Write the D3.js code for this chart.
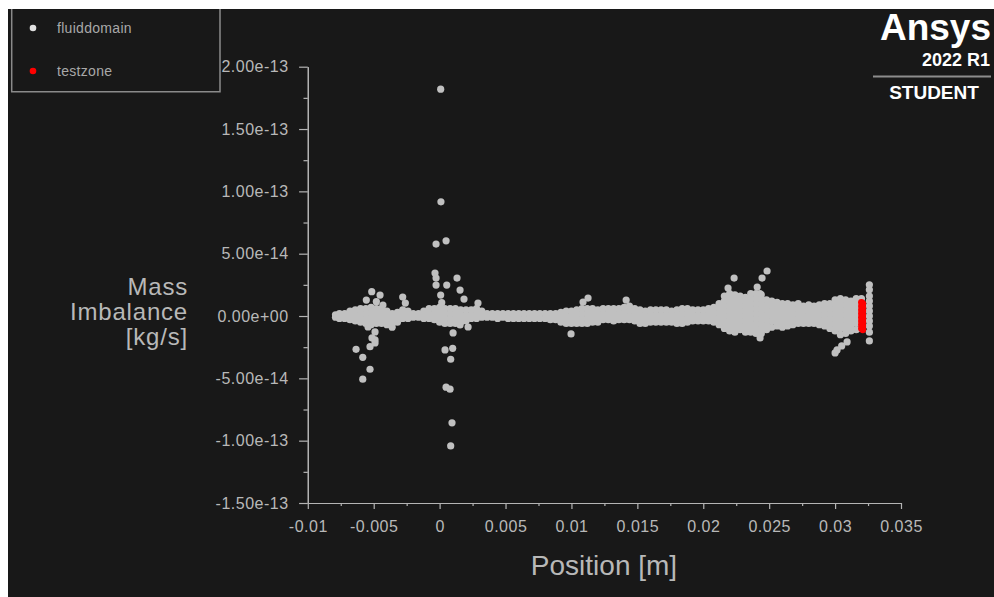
<!DOCTYPE html>
<html><head><meta charset="utf-8">
<script src="https://cdn.jsdelivr.net/npm/d3@7"></script>
<style>
html,body{margin:0;padding:0;background:#ffffff;}
svg{display:block;font-family:"Liberation Sans",Arial,sans-serif;}
</style>
</head><body>
<svg id="chart" width="994" height="597"></svg>
<script>
// ---------- data ----------
const xTickValues = [-0.01, -0.005, 0, 0.005, 0.01, 0.015, 0.02, 0.025, 0.03, 0.035];
const xTickLabels = ["-0.01", "-0.005", "0", "0.005", "0.01", "0.015", "0.02", "0.025", "0.03", "0.035"];
const xMinorTicks = [-0.0075, -0.0025, 0.0025, 0.0075, 0.0125, 0.0175, 0.0225, 0.0275, 0.0325];
const yTickValues = [2e-13, 1.5e-13, 1e-13, 5e-14, 0, -5e-14, -1e-13, -1.5e-13];
const yTickLabels = ["2.00e-13", "1.50e-13", "1.00e-13", "5.00e-14", "0.00e+00", "-5.00e-14", "-1.00e-13", "-1.50e-13"];
const yMinorTicks = [1.75e-13, 1.25e-13, 7.5e-14, 2.5e-14, -2.5e-14, -7.5e-14, -1.25e-13];
const seriesNames = ["fluiddomain", "testzone"];
const seriesColors = ["#c0c0c0", "#ff0000"];
const xTitle = "Position [m]";
const yTitleLines = ["Mass", "Imbalance", "[kg/s]"];

// fluiddomain: dense band, read column by column (x in m, y in 1e-15 kg/s)
const bandX = [-0.0079, -0.0076, -0.0072, -0.0068, -0.0064, -0.0060, -0.0056, -0.0052, -0.0048, -0.0044,
  -0.0040, -0.0036, -0.0032, -0.0028, -0.0024, -0.0020, -0.0016, -0.0012, -0.0008, -0.0004,
  0.0000, 0.0004, 0.0008, 0.0012, 0.0016, 0.0020, 0.0024, 0.0028, 0.0032, 0.0036,
  0.0040, 0.0044, 0.0048, 0.0052, 0.0056, 0.0060, 0.0064, 0.0068, 0.0072, 0.0076,
  0.0080, 0.0084, 0.0088, 0.0092, 0.0096, 0.0100, 0.0104, 0.0108, 0.0112, 0.0116,
  0.0120, 0.0124, 0.0128, 0.0132, 0.0136, 0.0140, 0.0144, 0.0148, 0.0152, 0.0156,
  0.0160, 0.0164, 0.0168, 0.0172, 0.0176, 0.0180, 0.0184, 0.0188, 0.0192, 0.0196,
  0.0200, 0.0204, 0.0208, 0.0212, 0.0216, 0.0220, 0.0224, 0.0228, 0.0232, 0.0236,
  0.0240, 0.0244, 0.0248, 0.0252, 0.0256, 0.0260, 0.0264, 0.0268, 0.0272, 0.0276,
  0.0280, 0.0284, 0.0288, 0.0292, 0.0296, 0.0300, 0.0304, 0.0308, 0.0312, 0.0316,
  0.0320, 0.0326];
const bandY = [
  [1,-1],[2,-2],[2,-2],[4,0,-3],[5,1,-2,-4],[6,2,-2,-5],[6,2,-2,-6],[7,3,-1,-4,-7],[6,2,-2,-6],[6,2,-2,-6],
  [4,0,-4,-7],[2,-2,-6,-9],[3,-1,-5],[5,1,-2],[4,0,-2],[2,-1],[2,-1],[4,0,-2],[6,2,-2],[6,2,-1,-3],
  [7,3,-1,-5],[6,2,-2,-6],[6,2,-2,-6],[6,2,-2,-6],[5,1,-2,-5],[5,1,-2,-4],[5,1,-2],[6,2,-2],[4,0,-1],[2,-1],
  [2,-1],[2,-2],[2,-1],[2,-2],[2,-2],[2,-2],[2,-2],[2,-2],[2,-2],[2,-2],
  [2,-2],[2,-1,-3],[2,-1,-3],[3,-1,-5],[4,0,-3,-6],[4,0,-3,-6],[5,1,-3,-6],[6,2,-2,-6],[6,2,-2,-6],[6,2,-2,-5],
  [5,1,-2,-5],[6,2,-1,-3],[6,2,-1,-3],[6,2,-1,-4],[6,2,-1,-3],[7,3,0,-3],[8,4,0,-3],[6,2,-1,-4],[5,1,-2,-6],[4,0,-3,-6],
  [5,1,-2,-5],[5,1,-2,-5],[5,1,-2,-5],[5,1,-2,-5],[4,0,-2,-5],[5,1,-2,-6],[6,2,-2,-6],[6,2,-2,-5],[5,1,-2,-4],[5,1,-2,-4],
  [5,1,-2,-4],[6,2,-1,-4],[7,3,-1,-5],[10,6,2,-2,-5,-7],[16,12,8,4,0,-4,-7,-10],[18,14,10,6,2,-2,-5,-9,-12],[17,13,9,5,1,-3,-6,-9,-13],[16,12,8,4,0,-4,-8,-11],[15,11,7,3,-1,-5,-9,-13],[18,14,10,6,2,-2,-6,-9,-13],
  [18,14,10,6,2,-2,-6,-10,-14],[17,13,9,5,1,-3,-7,-11,-14],[13,9,5,1,-3,-7,-11],[12,8,4,0,-4,-9],[11,7,3,-1,-5,-8],[10,6,2,-2,-6,-9],[10,6,2,-2,-5,-8],[9,5,1,-3,-7],[10,6,2,-2,-6],[8,4,0,-3,-6],
  [9,5,1,-3,-6],[8,4,0,-3,-6],[9,5,1,-3,-7],[10,6,2,-2,-5,-8],[10,6,2,-2,-6,-10],[13,9,5,1,-3,-7,-12],[14,10,6,2,-2,-6,-10,-15],[13,9,5,1,-3,-7,-10,-14],[12,8,4,0,-4,-8,-12],[14,10,6,2,-2,-6,-11],
  [14,10,6,2,-2,-6,-10],[25,21,16,12,8,4,0,-4,-8,-13,-20]
];
// fluiddomain: scattered points away from the band (x in m, y in 1e-15 kg/s)
const outlierX = [0.00008, 0.0001, -0.00027, 0.00049, -0.00035, -0.00027, -0.00027, 0.00054, 0.00132, 0.00155,
  0.00185, 0.00008, 0.00016, 0.00291, 0.00049, 0.00079, 0.00094, 0.00084, 0.00041, 0.00099,
  0.00084, 0.00102, 0.00155, 0.00216, -0.00634, -0.00583, -0.00528, -0.00583, -0.00528, -0.0049,
  -0.00543, -0.0049, -0.00513, -0.0049, -0.00515, -0.00452, -0.00556, -0.0048, -0.0043, -0.0028,
  -0.0026, 0.01126, 0.01088, 0.00997, 0.01415, 0.02188, 0.02234, 0.02409, 0.02446, 0.02484,
  0.0243, 0.02431, 0.03091, 0.03015, 0.0300, 0.0305];
const outlierY = [182, 91.6, 57.7, 60.3, 34.5, 30.4, 24.8, 24.8, 30.4, 20.8,
  13.6, 16.8, 10.7, 10.4, -57.1, -58.7, -85.7, -104.2, -27.2, -25.9,
  -34.7, -13.6, -7.2, -8.8, -26.7, -33.1, -42.7, -50.7, -24.6, -19.2,
  -8.8, -12.8, -17.6, -21.6, 19.5, 16.8, 12.8, 11.5, 8.8, 15.2,
  10.4, 14.4, 11.2, -14.4, 12.8, 22.4, 30.4, 23.2, 30.4, 36.1,
  18, -17.6, -20.8, -27.2, -29.6, -24];
// testzone (x in m, y in 1e-15 kg/s)
const testX = [0.0320, 0.0320, 0.0320, 0.0320, 0.0320, 0.0320, 0.0320, 0.0320,
  0.0321, 0.0321, 0.0321, 0.0321, 0.0321, 0.0321, 0.0321, 0.0321];
const testY = [11, 8, 5, 2, -1, -4, -7, -10, 10, 7, 4, 1, -2, -5, -8, -11];

const UNIT = 1e-15;

// ---------- drawing ----------
const svg = d3.select("#chart");
const W = 994, H = 597;
svg.append("rect").attr("x", 0).attr("y", 0).attr("width", W).attr("height", H).attr("fill", "#ffffff");
svg.append("rect").attr("x", 8).attr("y", 9).attr("width", W - 8).attr("height", H - 9).attr("fill", "#181818");

const x = d3.scaleLinear().domain([-0.01, 0.035]).range([307.8, 901]);
const y = d3.scaleLinear().domain([-1.5e-13, 2e-13]).range([503, 66.7]);

const axisColor = "#b4b4b4";
const labelColor = "#b8b8b8";

// fluiddomain points
const fluidPts = [];
bandX.forEach((xv, i) => bandY[i].forEach(v => fluidPts.push([xv, v * UNIT])));
outlierX.forEach((xv, i) => fluidPts.push([xv, outlierY[i] * UNIT]));
const testPts = testX.map((xv, i) => [xv, testY[i] * UNIT]);

svg.append("g").selectAll("circle").data(fluidPts).join("circle")
  .attr("cx", d => x(d[0])).attr("cy", d => y(d[1])).attr("r", 3.6).attr("fill", seriesColors[0]);
svg.append("g").selectAll("circle").data(testPts).join("circle")
  .attr("cx", d => x(d[0])).attr("cy", d => y(d[1])).attr("r", 3.4).attr("fill", seriesColors[1]);

// axes
function styleAxis(g) {
  g.selectAll("path.domain").attr("stroke", axisColor).attr("stroke-width", 1.2);
  g.selectAll(".tick line").attr("stroke", axisColor).attr("stroke-width", 1.2);
  g.selectAll(".tick text").attr("fill", labelColor).attr("font-size", 16)
    .attr("font-family", "'Liberation Sans', Arial, sans-serif").style("letter-spacing", "0.5px");
}
const gx = svg.append("g").attr("transform", "translate(0,503)")
  .call(d3.axisBottom(x).tickValues(xTickValues).tickFormat((d, i) => xTickLabels[i])
    .tickSize(6).tickSizeOuter(0).tickPadding(12));
styleAxis(gx);
const gxm = svg.append("g").attr("transform", "translate(0,503)")
  .call(d3.axisBottom(x).tickValues(xMinorTicks).tickFormat("").tickSize(3).tickSizeOuter(0));
styleAxis(gxm);
const gy = svg.append("g").attr("transform", "translate(307.8,0)")
  .call(d3.axisLeft(y).tickValues(yTickValues).tickFormat((d, i) => yTickLabels[i])
    .tickSize(8.7).tickSizeOuter(0).tickPadding(10.5));
styleAxis(gy);
const gym = svg.append("g").attr("transform", "translate(307.8,0)")
  .call(d3.axisLeft(y).tickValues(yMinorTicks).tickFormat("").tickSize(4.3).tickSizeOuter(0));
styleAxis(gym);
gx.raise();

// axis titles
svg.append("text").attr("x", 604).attr("y", 575).attr("text-anchor", "middle")
  .attr("fill", labelColor).attr("font-size", 28).text(xTitle);
yTitleLines.forEach((t, i) => svg.append("text").attr("text-anchor", "end")
  .attr("fill", labelColor).attr("font-size", 24).style("letter-spacing", "0.8px")
  .attr("x", 188).attr("y", 295 + i * 25).text(t));

// legend
svg.append("path").attr("d", "M11.7,9 V91.7 H220 V9").attr("fill", "none")
  .attr("stroke", "#8a8a8a").attr("stroke-width", 1.5);
const leg = svg.append("g").selectAll("g").data(seriesNames).join("g")
  .attr("transform", (d, i) => `translate(0,${28 + i * 43})`);
leg.append("circle").attr("cx", 33).attr("cy", 0).attr("r", 3.3).attr("fill", (d, i) => i === 0 ? "#e0e0e0" : seriesColors[1]);
leg.append("text").attr("x", 57).attr("y", 0).attr("dy", "0.35em").attr("fill", "#a8a8a8")
  .attr("font-size", 14).style("letter-spacing", "0.3px").text(d => d);

// branding
const brand = svg.append("g").attr("fill", "#ffffff").attr("font-weight", "bold");
brand.append("text").attr("x", 991).attr("y", 40).attr("text-anchor", "end").attr("font-size", 37).text("Ansys");
brand.append("text").attr("x", 990).attr("y", 66).attr("text-anchor", "end").attr("font-size", 18).text("2022 R1");
svg.append("line").attr("x1", 873).attr("x2", 991).attr("y1", 76.5).attr("y2", 76.5)
  .attr("stroke", "#8c8c8c").attr("stroke-width", 2);
brand.append("text").attr("x", 934).attr("y", 99).attr("text-anchor", "middle").attr("font-size", 19).text("STUDENT");
</script>
</body></html>
